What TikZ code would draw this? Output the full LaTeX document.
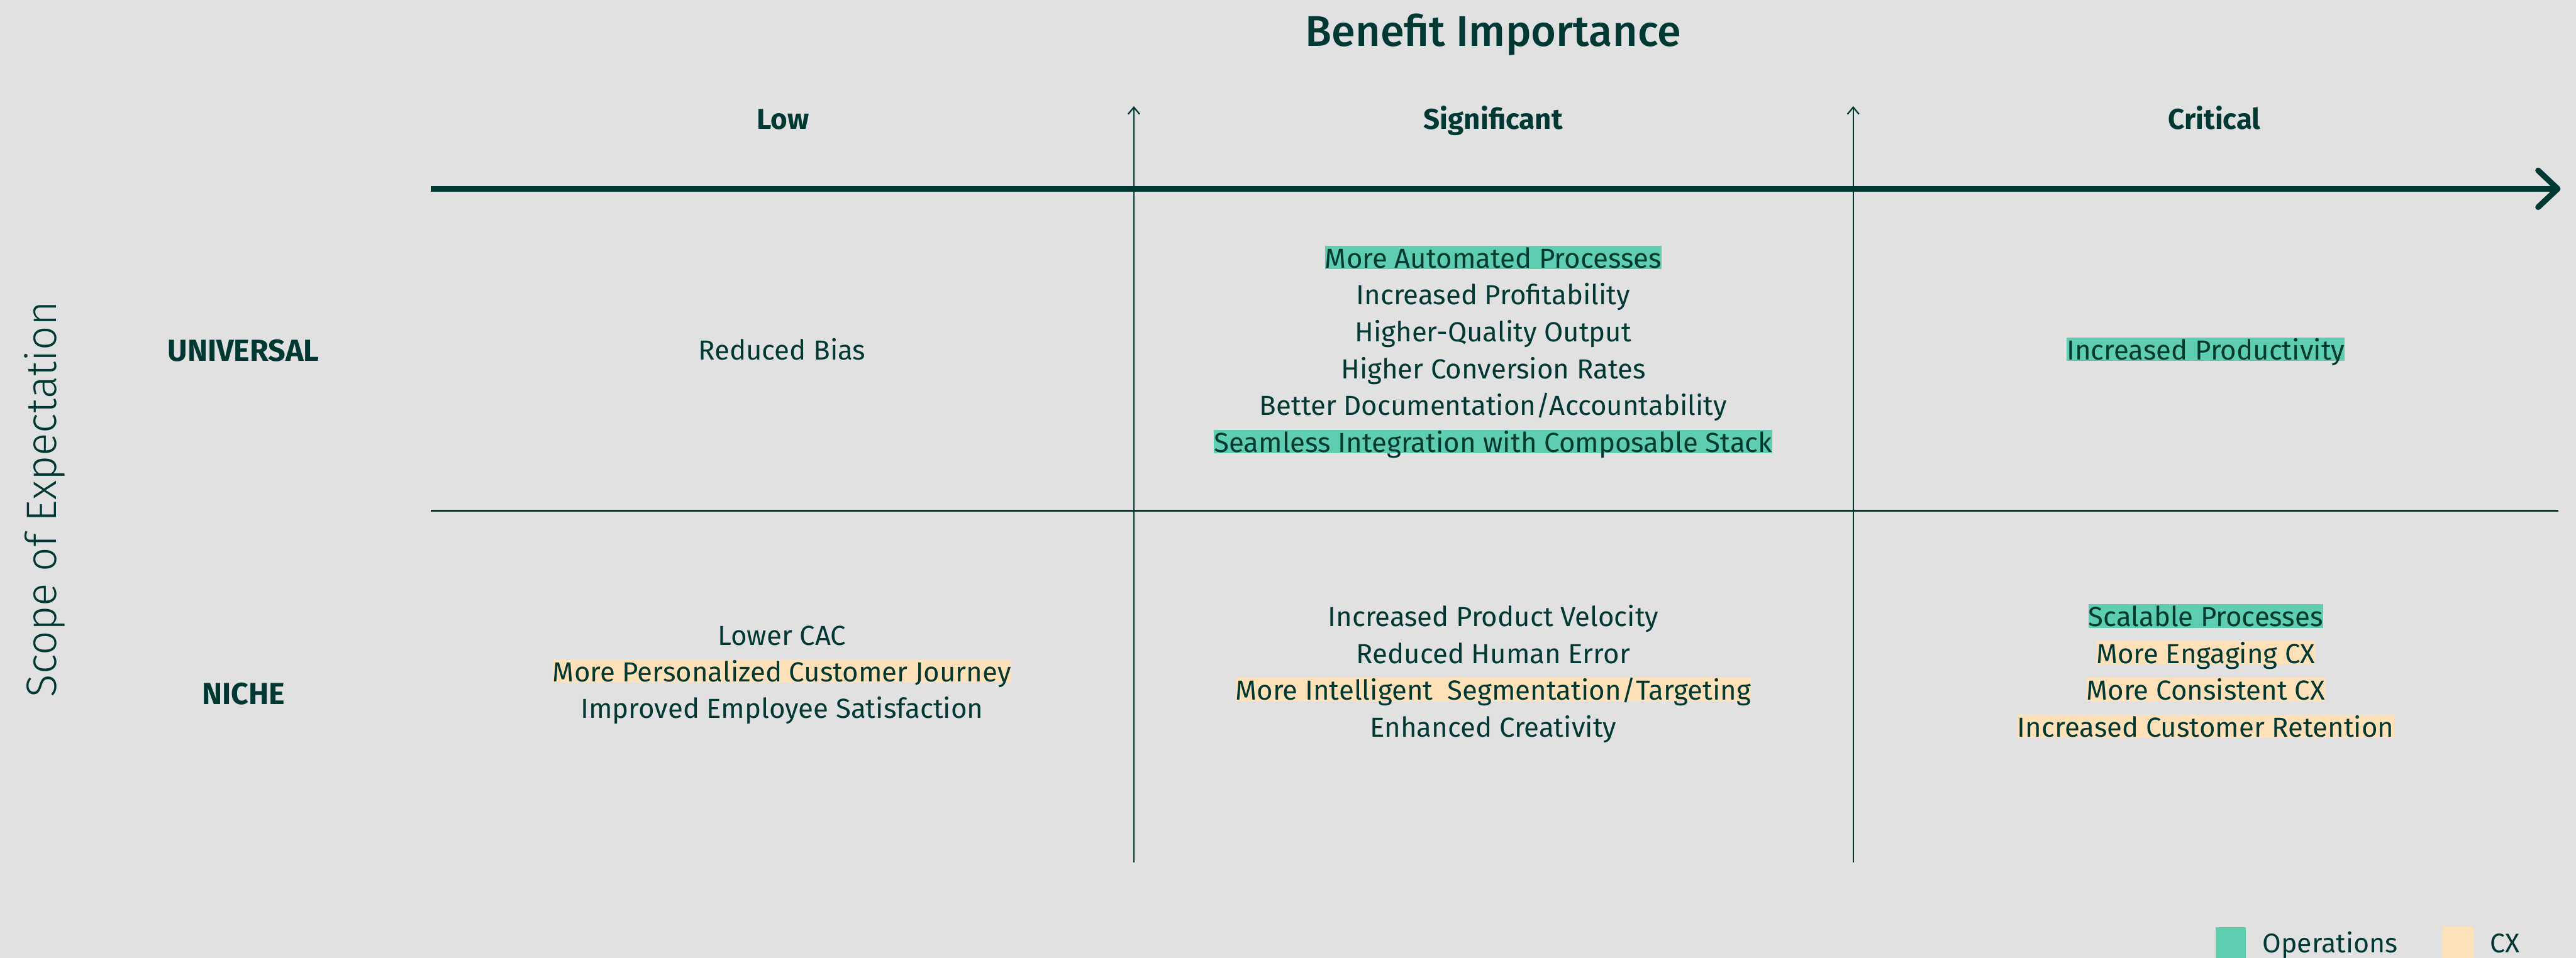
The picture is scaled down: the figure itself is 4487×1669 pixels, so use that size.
\documentclass[tikz,border=0pt]{standalone}
\usepackage{fontspec}
\setmainfont{Fira Sans}
\newfontfamily\lightfam{Fira Sans Light}
\newfontfamily\medfam{Fira Sans Medium}
\usetikzlibrary{arrows.meta}

\definecolor{bg}{RGB}{225,225,225}
\definecolor{ink}{RGB}{0,56,52}
\definecolor{opsgreen}{RGB}{95,205,176}
\definecolor{cxpeach}{RGB}{255,225,185}

\newcommand\bodysize{\fontsize{48pt}{58pt}\selectfont}

\tikzset{
  txt/.style={font=\bodysize, text=ink, anchor=base, inner sep=0pt},
  ops/.style={txt, fill=opsgreen, text height=39pt, text depth=2pt},
  cx/.style={txt, fill=cxpeach, text height=39pt, text depth=2pt},
  colhead/.style={font=\fontsize{50pt}{60pt}\selectfont\bfseries, text=ink, anchor=base, inner sep=0pt},
  rowhead/.style={font=\fontsize{53pt}{62pt}\selectfont\bfseries, text=ink, anchor=base, inner sep=0pt},
  axistitle/.style={text=ink, anchor=base, inner sep=0pt},
  divider/.style={draw=ink, line width=2.5pt},
  mainaxis/.style={draw=ink, line width=10pt},
  legendtxt/.style={font=\fontsize{47pt}{56pt}\selectfont, text=ink, anchor=base west, inner sep=0pt},
}

\begin{document}
\begin{tikzpicture}[x=1pt, y=-1pt]
\useasboundingbox[fill=bg] (0,0) rectangle (4487,1669);

% axis titles
\node[axistitle, font=\fontsize{75pt}{90pt}\medfam] (title) at (2601,80) {Benefit Importance};
\node[axistitle, font=\fontsize{74pt}{90pt}\lightfam, rotate=90] (scope) at (98,870) {Scope of Expectation};

% column headers
\node[colhead] (h-low)  at (1364,225) {Low};
\node[colhead] (h-sig)  at (2601,225) {Significant};
\node[colhead] (h-crit) at (3857,225) {Critical};

% row headers
\node[rowhead] (r-uni)   at (424,629)  {UNIVERSAL};
\node[rowhead] (r-niche) at (424,1227) {NICHE};

% horizontal importance axis
\coordinate (ax-start) at (750,329);
\coordinate (ax-end)   at (4455,329);
\coordinate (ax-up)    at (4421,297);
\coordinate (ax-dn)    at (4421,361);
\draw[mainaxis] (ax-start) -- (ax-end);
\draw[mainaxis, line cap=round, line join=round] (ax-up) -- (ax-end) -- (ax-dn);

% column dividers
\coordinate (d1-bot) at (1975,1503);
\coordinate (d1-top) at (1975,185);
\coordinate (d2-bot) at (3228,1503);
\coordinate (d2-top) at (3228,185);
\draw[divider, -{Straight Barb[length=12pt,width=20pt]}] (d1-bot) -- (d1-top);
\draw[divider, -{Straight Barb[length=12pt,width=20pt]}] (d2-bot) -- (d2-top);

% row divider
\coordinate (mid-l) at (750,890);
\coordinate (mid-r) at (4456,890);
\draw[divider] (mid-l) -- (mid-r);

% universal row
\node[txt] (u-low) at (1362,627) {Reduced Bias};
\node[ops] (u-sig-1) at (2601,467.0) {More Automated Processes};
\node[txt] (u-sig-2) at (2601,531.2) {Increased Profitability};
\node[txt] (u-sig-3) at (2601,595.4) {Higher-Quality Output};
\node[txt] (u-sig-4) at (2601,659.6) {Higher Conversion Rates};
\node[txt] (u-sig-5) at (2601,723.8) {Better Documentation/Accountability};
\node[ops] (u-sig-6) at (2601,788.0) {Seamless Integration with Composable Stack};
\node[ops] (u-crit) at (3842,627) {Increased Productivity};

% niche row
\node[txt] (n-low-1) at (1362,1124) {Lower CAC};
\node[cx]  (n-low-2) at (1362,1188) {More Personalized Customer Journey};
\node[txt] (n-low-3) at (1362,1252) {Improved Employee Satisfaction};

\node[txt] (n-sig-1) at (2601,1092) {Increased Product Velocity};
\node[txt] (n-sig-2) at (2601,1156) {Reduced Human Error};
\node[cx]  (n-sig-3) at (2601,1220) {More Intelligent\ \ Segmentation/Targeting};
\node[txt] (n-sig-4) at (2601,1284) {Enhanced Creativity};

\node[ops] (n-crit-1) at (3842,1092) {Scalable Processes};
\node[cx]  (n-crit-2) at (3842,1156) {More Engaging CX};
\node[cx]  (n-crit-3) at (3842,1220) {More Consistent CX};
\node[cx]  (n-crit-4) at (3842,1284) {Increased Customer Retention};

% legend
\fill[opsgreen] (3859,1616) rectangle (3912,1669);
\node[legendtxt] (leg-ops) at (3941,1660) {Operations};
\fill[cxpeach] (4255,1615) rectangle (4308,1669);
\node[legendtxt] (leg-cx) at (4337,1660) {CX};
\end{tikzpicture}
\end{document}
